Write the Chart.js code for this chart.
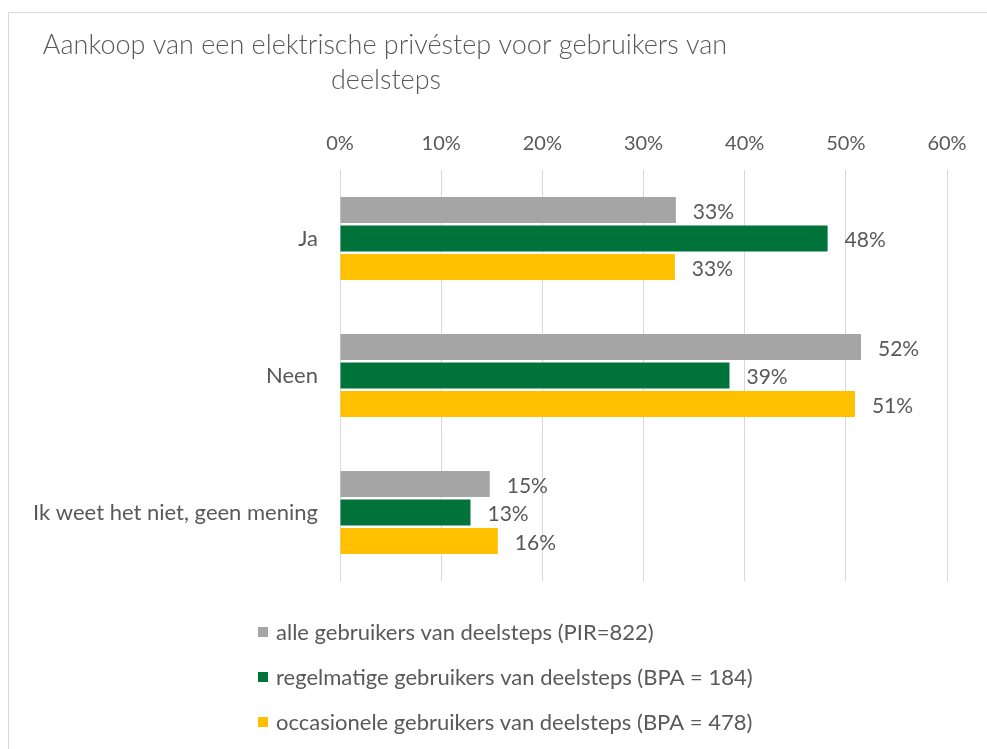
<!DOCTYPE html>
<html>
<head>
<meta charset="utf-8">
<script src="https://cdn.jsdelivr.net/npm/chart.js@4.4.1/dist/chart.umd.min.js"></script>
<style>
  html, body { margin: 0; padding: 0; background: #ffffff; }
  #wrap { position: relative; width: 987px; height: 749px; overflow: hidden; }
  #frame { position: absolute; left: 8px; top: 12px; width: 1200px; height: 1000px;
           border-left: 1px solid #d9d9d9; border-top: 1px solid #d9d9d9; box-sizing: border-box; }
  canvas { position: absolute; left: 0; top: 0; }
</style>
</head>
<body>
<div id="wrap">
  <div id="frame"></div>
  <canvas id="c" width="987" height="749"></canvas>
</div>
<script>
const titleLines = ["Aankoop van een elektrische privéstep voor gebruikers van", "deelsteps"];
const categories = ["Ja", "Neen", "Ik weet het niet, geen mening"];
const seriesNames = [
  "alle gebruikers van deelsteps (PIR=822)",
  "regelmatige gebruikers van deelsteps (BPA = 184)",
  "occasionele gebruikers van deelsteps (BPA = 478)"
];
const allUsers = [33.2, 51.5, 14.8];
const regularUsers = [48.2, 38.5, 12.9];
const occasionalUsers = [33.1, 50.9, 15.6];
const xTicks = [0, 10, 20, 30, 40, 50, 60];

const colors = ["#A5A5A5", "#00733A", "#FFC000"];
const textColor = "#595959";
const FONT = "Lato, 'Open Sans', sans-serif";

const titlePlugin = {
  id: 'customTitle',
  afterDraw(chart) {
    const ctx = chart.ctx;
    ctx.save();
    ctx.fillStyle = textColor;
    ctx.font = "300 27px " + FONT;
    ctx.textAlign = "center";
    ctx.textBaseline = "middle";
    ctx.fillText(titleLines[0], 385, 45);
    ctx.fillText(titleLines[1], 386, 80);
    ctx.restore();
  }
};

const valueLabels = {
  id: 'valueLabels',
  afterDatasetsDraw(chart) {
    const ctx = chart.ctx;
    ctx.save();
    ctx.fillStyle = textColor;
    ctx.font = "21px " + FONT;
    ctx.textAlign = "left";
    ctx.textBaseline = "middle";
    chart.data.datasets.forEach((ds, i) => {
      const meta = chart.getDatasetMeta(i);
      meta.data.forEach((el, j) => {
        ctx.fillText(Math.round(ds.data[j]) + "%", el.x + 17, el.y + 2);
      });
    });
    ctx.restore();
  }
};

const legendPlugin = {
  id: 'vertLegend',
  afterDraw(chart) {
    const ctx = chart.ctx;
    ctx.save();
    ctx.font = "22px " + FONT;
    ctx.textBaseline = "middle";
    ctx.textAlign = "left";
    chart.data.datasets.forEach((ds, i) => {
      const y = 632 + i * 45;
      ctx.fillStyle = ds.backgroundColor;
      ctx.fillRect(258, y - 5, 10, 10);
      ctx.fillStyle = textColor;
      ctx.fillText(ds.label, 276, y + 1);
    });
    ctx.restore();
  }
};

const values = [allUsers, regularUsers, occasionalUsers];

new Chart(document.getElementById('c'), {
  type: 'bar',
  data: {
    labels: categories,
    datasets: values.map((v, i) => ({
      label: seriesNames[i],
      data: v,
      backgroundColor: colors[i],
      borderWidth: 0,
      barPercentage: 0.91,
      categoryPercentage: 0.625
    }))
  },
  options: {
    indexAxis: 'y',
    responsive: false,
    animation: false,
    devicePixelRatio: 1,
    layout: { padding: { top: 100, right: 40, bottom: 168, left: 0 } },
    plugins: {
      legend: { display: false },
      title: { display: false },
      tooltip: { enabled: false }
    },
    scales: {
      x: {
        position: 'top',
        min: 0,
        max: 60,
        afterBuildTicks(scale) { scale.ticks = xTicks.map(v => ({ value: v })); },
        afterFit(scale) { scale.height = 70; },
        ticks: {
          callback: v => v + "%",
          color: textColor,
          font: { family: FONT, size: 20 },
          padding: 14,
          maxRotation: 0
        },
        grid: { color: "#D9D9D9", lineWidth: 1, drawTicks: false },
        border: { display: false }
      },
      y: {
        afterFit(scale) { scale.width = 340; },
        ticks: {
          color: textColor,
          font: { family: FONT, size: 22 },
          padding: 22
        },
        grid: { display: false, drawTicks: false },
        border: { display: false }
      }
    }
  },
  plugins: [titlePlugin, valueLabels, legendPlugin]
});
</script>
</body>
</html>
